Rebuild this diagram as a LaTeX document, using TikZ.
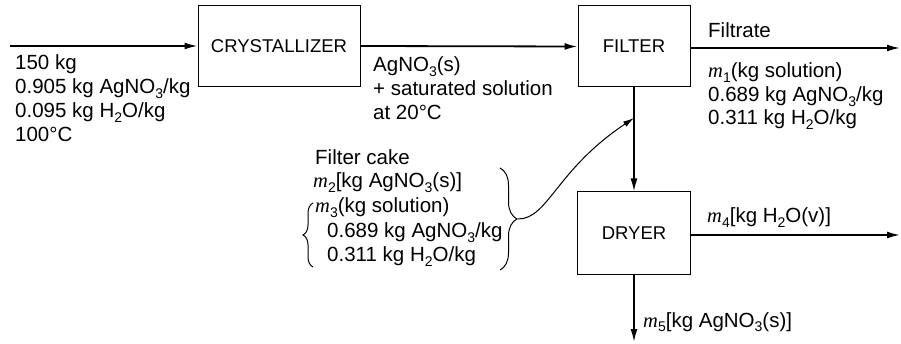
\documentclass[tikz,border=0pt]{standalone}
\usepackage{fontspec}
\setmainfont{Liberation Sans}
\newfontfamily\mserif{Liberation Serif}
\usetikzlibrary{arrows.meta,decorations.pathreplacing}
\newcommand\sbs[1]{\raisebox{-0.38ex}{\fontsize{14}{14}\selectfont #1}}
\newcommand\mvar[1]{{\mserif\itshape m}\sbs{#1}}
\begin{document}
\begin{tikzpicture}[x=1pt,y=-1pt,
  font=\fontsize{20.5}{24}\selectfont,
  box/.style={draw, line width=1pt, inner sep=0pt, font=\fontsize{18.5}{22}\selectfont},
  flow/.style={line width=1.8pt, -{Latex[length=13pt,width=7pt]}},
  lbl/.style={anchor=base west, inner sep=0pt}]
\useasboundingbox (0,0) rectangle (901,344);
% boxes
\node[box, minimum width=162pt, minimum height=81pt] (cryst) at (279,46) {CRYSTALLIZER};
\node[box, minimum width=112pt, minimum height=81pt] (filter) at (634,46.5) {FILTER};
\node[box, minimum width=113pt, minimum height=83pt] (dryer) at (634,233.5) {DRYER};
% free ends
\coordinate (feed) at (10,46);
\coordinate (out1) at (900,48);
\coordinate (out4) at (900,235);
\coordinate (out5) at (634,342);
\coordinate (join) at (634,118);
\coordinate (brtip) at (518,219);
% flows
\draw[flow] (feed) -- (cryst.west);
\draw[flow] (cryst.east) -- (filter.west);
\draw[flow] (filter.east |- out1) -- (out1);
\draw[flow] (filter.south) -- (dryer.north);
\draw[flow] (dryer.east |- out4) -- (out4);
\draw[flow] (dryer.south) -- (out5);
% feed labels
\node[lbl] (f1) at (15,70) {150 kg};
\node[lbl] (f2) at (15,94) {0.905 kg AgNO\sbs{3}/kg};
\node[lbl] (f3) at (15,118) {0.095 kg H\sbs{2}O/kg};
\node[lbl] (f4) at (15,142) {100°C};
% mid labels
\node[lbl] (c1) at (373,72) {AgNO\sbs{3}(s)};
\node[lbl] (c2) at (373,96) {+ saturated solution};
\node[lbl] (c3) at (373,120) {at 20°C};
% filtrate
\node[lbl] (r0) at (708,38) {Filtrate};
\node[lbl] (r1) at (708,78) {\mvar{1}(kg solution)};
\node[lbl] (r2) at (708,102) {0.689 kg AgNO\sbs{3}/kg};
\node[lbl] (r3) at (708,125) {0.311 kg H\sbs{2}O/kg};
% filter cake
\node[lbl] (k0) at (315,165) {Filter cake};
\node[lbl] (k1) at (313,188) {\mvar{2}[kg AgNO\sbs{3}(s)]};
\node[lbl] (k2) at (315,213) {\mvar{3}(kg solution)};
\node[lbl] (k3) at (327,238) {0.689 kg AgNO\sbs{3}/kg};
\node[lbl] (k4) at (327,262) {0.311 kg H\sbs{2}O/kg};
% dryer outputs
\node[lbl] (d1) at (707,223) {\mvar{4}[kg H\sbs{2}O(v)]};
\node[lbl] (d2) at (643,327) {\mvar{5}[kg AgNO\sbs{3}(s)]};
% braces
\draw[line width=1pt, decorate, decoration={brace, amplitude=17pt}] (500,168) -- (500,270);
\draw[line width=1pt, decorate, decoration={brace, amplitude=10pt}] (313,267) -- (313,203);
% recycle curve
\draw[line width=1pt, -{Latex[length=11pt,width=6pt]}] (brtip) .. controls (548,219) and (556,170) .. (join);
\end{tikzpicture}
\end{document}
